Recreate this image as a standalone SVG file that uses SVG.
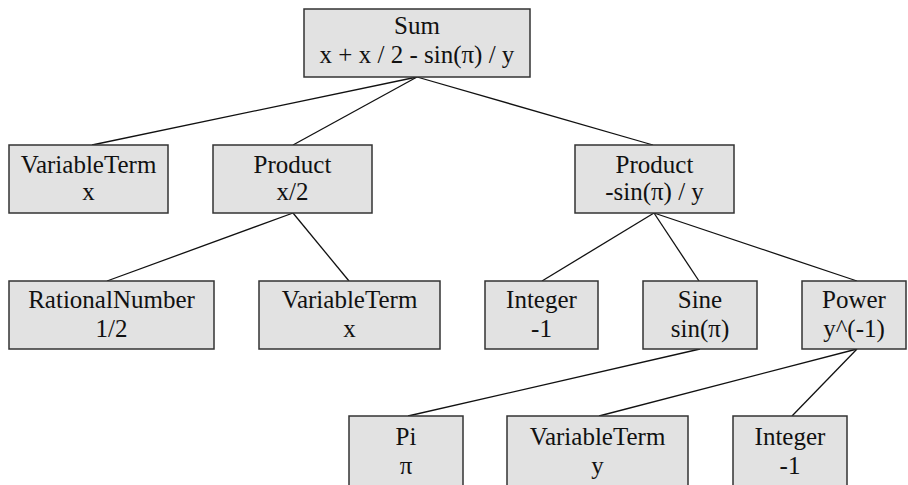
<svg xmlns="http://www.w3.org/2000/svg" width="908" height="485" viewBox="0 0 908 485">
<style>
.box{fill:#e2e2e2;stroke:#333;stroke-width:1.5}
.c line{stroke:#111;stroke-width:1.3}
</style>
<rect width="908" height="485" fill="#fff"/>
<g class="c" id="connectors">
<line x1="417" y1="77" x2="92" y2="145"/>
<line x1="417" y1="77" x2="293" y2="145"/>
<line x1="417" y1="77" x2="653" y2="145"/>
<line x1="293" y1="213" x2="107" y2="281"/>
<line x1="293" y1="213" x2="349" y2="281"/>
<line x1="654" y1="213" x2="542" y2="281"/>
<line x1="654" y1="213" x2="699" y2="281"/>
<line x1="654" y1="213" x2="857" y2="281"/>
<line x1="700" y1="349" x2="408" y2="416"/>
<line x1="857" y1="349" x2="599" y2="416"/>
<line x1="857" y1="349" x2="792" y2="416"/>
</g>
<g font-family="Liberation Serif" font-size="25" text-anchor="middle" fill="#111">
<g id="sum"><rect class="box" x="304" y="9" width="226" height="68"/><text x="417" y="34">Sum</text><text x="417" y="63">x + x / 2 - sin(π) / y</text></g>
<g id="vt1"><rect class="box" x="9" y="145" width="159" height="68"/><text x="88.5" y="173">VariableTerm</text><text x="88.5" y="200">x</text></g>
<g id="prod1"><rect class="box" x="213" y="145" width="159" height="68"/><text x="292.5" y="173">Product</text><text x="292.5" y="200">x/2</text></g>
<g id="prod2"><rect class="box" x="575" y="145" width="159" height="68"/><text x="654.5" y="173">Product</text><text x="654.5" y="200">-sin(π) / y</text></g>
<g id="rat"><rect class="box" x="9" y="281" width="205" height="68"/><text x="111.5" y="308">RationalNumber</text><text x="111.5" y="337">1/2</text></g>
<g id="vt2"><rect class="box" x="259" y="281" width="181" height="68"/><text x="349.5" y="308">VariableTerm</text><text x="349.5" y="337">x</text></g>
<g id="int1"><rect class="box" x="485" y="281" width="113" height="68"/><text x="541.5" y="308">Integer</text><text x="541.5" y="337">-1</text></g>
<g id="sine"><rect class="box" x="643" y="281" width="114" height="68"/><text x="700" y="308">Sine</text><text x="700" y="337">sin(π)</text></g>
<g id="power"><rect class="box" x="802" y="281" width="104" height="68"/><text x="854" y="308">Power</text><text x="854" y="337">y^(-1)</text></g>
<g id="pi"><rect class="box" x="349" y="416" width="114" height="80"/><text x="406" y="445">Pi</text><text x="406" y="474">π</text></g>
<g id="vt3"><rect class="box" x="507" y="416" width="181" height="80"/><text x="597.5" y="445">VariableTerm</text><text x="597.5" y="474">y</text></g>
<g id="int2"><rect class="box" x="733" y="416" width="114" height="80"/><text x="790" y="445">Integer</text><text x="790" y="474">-1</text></g>
</g>
</svg>
